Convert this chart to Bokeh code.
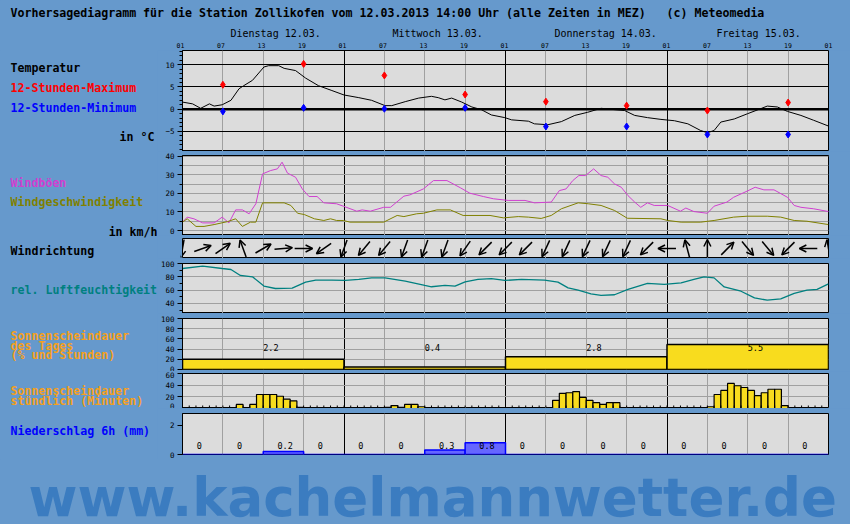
import numpy as np
from bokeh.plotting import figure
from bokeh.layouts import column, row
from bokeh.models import (Range1d, FixedTicker, SingleIntervalTicker,
                          Grid, Span, Arrow, OpenHead, ColumnDataSource)
from bokeh.core.properties import value
from bokeh.embed import file_html
from bokeh.resources import INLINE

# ---------------- data (x = hours since 12.03. 01:00 MEZ) ----------------
title_text = ("Vorhersagediagramm für die Station Zollikofen vom 12.03.2013 14:00 Uhr "
              "(alle Zeiten in MEZ)\u00a0\u00a0\u00a0(c) Meteomedia")
day_labels = ["Dienstag 12.03.", "Mittwoch 13.03.", "Donnerstag 14.03.", "Freitag 15.03."]
hour_ticks = list(range(0, 97, 6))
hour_labels = ["01", "07", "13", "19"] * 4 + ["01"]

temp_h = [0, 1.5, 2.7, 4, 4.7, 5.9, 7.2, 8.4, 9.1, 10.4, 12.1, 12.8, 14.3, 15.1, 16.8, 18.3,
          20.2, 22.2, 24, 26.2, 28.1, 30.1, 31.1, 33.1, 35.1, 37, 38, 39, 40, 41.5, 43, 44.4,
          45.9, 47.9, 48.9, 51.4, 52.3, 54.3, 56.3, 58.3, 60.2, 62.2, 64.2, 65.7, 67.2, 69.1,
          71.1, 73.1, 75.1, 77, 78, 79, 80, 82, 84, 85.9, 86.9, 88.4, 89.9, 91.9, 93.8, 96]
temp_v = [1.6, 1.2, 0.2, 1.2, 0.7, 1.0, 2.0, 4.6, 5.3, 6.5, 9.5, 9.8, 9.8, 9.2, 8.7, 7.0,
          5.3, 4.2, 3.2, 2.6, 2.0, 0.8, 0.8, 1.7, 2.5, 2.9, 2.6, 2.1, 2.5, 1.6, 0.5, -0.1,
          -1.3, -1.9, -2.4, -2.7, -3.3, -3.5, -2.8, -1.4, -0.7, 0.2, -0.1, -0.3, -1.4, -1.9,
          -2.3, -2.6, -3.3, -4.8, -5.3, -4.8, -2.9, -2.2, -1.0, 0.1, 0.7, 0.5, -0.5, -1.4, -2.5, -3.8]
ext_h = [6, 18, 30, 42, 54, 66, 78, 90]
tmax = [5.5, 10.2, 7.6, 3.3, 1.7, 0.8, -0.3, 1.5]
tmin = [-0.5, 0.3, 0.1, 0.3, -3.9, -3.9, -5.7, -5.7]

gust_h = [0, 0.7, 1.7, 3, 4.7, 5.9, 6.9, 7.9, 8.9, 9.9, 10.9, 11.9, 13.1, 14.1, 14.8, 15.6,
          16.8, 17.8, 18.8, 20, 21, 22.9, 23.9, 25.9, 26.7, 27.9, 29.9, 30.9, 32.9, 33.8, 35.8,
          37.3, 39.3, 41.3, 42.7, 44.7, 46.2, 48.4, 50.9, 52.3, 54.8, 56, 57, 58, 58.9, 59.9,
          61.1, 62.2, 63.2, 64.2, 65.2, 66.2, 67.2, 68.1, 69.1, 70.1, 72.1, 74, 74.8, 76, 78,
          79, 80.9, 81.9, 83.9, 85.1, 86.4, 87.9, 89.9, 90.9, 91.9, 93.8, 96]
gust_v = [4.5, 7.2, 6.3, 4.1, 4.1, 7.2, 4.1, 11.1, 11.1, 9.0, 14.4, 30.5, 32.3, 33.2, 36.8, 30.9,
          28.7, 22.4, 18.3, 18.3, 14.9, 14.4, 13.1, 10.4, 11.1, 10.4, 12.5, 12.5, 18.5, 19.2, 22.4,
          26.9, 26.9, 23.0, 20.1, 18.3, 17.1, 16.2, 16.2, 14.9, 15.3, 21.5, 22.4, 26.9, 29.6, 29.6,
          33.2, 29.6, 28.7, 25.1, 23.3, 18.8, 15.3, 12.5, 14.9, 13.5, 13.5, 10.4, 12.1, 10.2, 9.3,
          13.1, 15.3, 17.9, 21.2, 23.3, 21.9, 21.9, 17.9, 13.5, 12.5, 11.7, 10.2]
wind_h = [0, 0.7, 2, 3.2, 4.7, 6.7, 7.9, 8.9, 10.1, 10.9, 11.9, 15.1, 16.1, 17.1, 18.1, 19.6,
          21, 22, 22.9, 23.9, 24.9, 29.9, 31.9, 32.9, 34.8, 35.8, 37.8, 39.8, 41.7, 45.7, 47.7,
          49.9, 51.4, 53.3, 54.8, 56.3, 58.8, 60.3, 62.2, 64.2, 66.1, 71.1, 72.1, 74.1, 77, 79,
          81.9, 83.9, 86.9, 88.9, 90.9, 92.8, 96]
wind_v = [4.5, 6.3, 2.2, 2.2, 3.2, 4.8, 6.3, 2.2, 4.5, 4.5, 14.9, 14.9, 13.5, 9.3, 8.6, 6.3,
          5.4, 6.3, 5.4, 5.4, 4.5, 4.5, 8.1, 7.5, 9.0, 9.3, 11.1, 11.1, 8.1, 8.1, 6.8,
          7.5, 7.2, 6.5, 8.1, 11.7, 14.9, 14.4, 13.5, 10.8, 6.6, 6.3, 5.4, 4.5, 4.5, 5.4,
          7.2, 7.7, 7.7, 7.2, 5.4, 5.0, 3.2]

wdir_h = list(range(0, 97, 3))
wdir_deg = [190, 70, 55, 340, 60, 85, 90, 235, 200, 220, 220, 200, 200, 200, 215, 225, 225,
            225, 205, 205, 205, 205, 205, 225, 270, 345, 0, 45, 140, 140, 225, 270, 350]

hum_h = [0, 3, 5.9, 7.2, 8.6, 10.4, 12.1, 13.8, 16.3, 18.3, 19.8, 22.2, 24.2, 26.2, 28.1, 30.1,
         33.1, 36, 37, 39, 40.5, 42, 43.9, 45.9, 47.9, 50.4, 53.8, 55.8, 57.3, 58.8, 60.7, 62.2,
         64.2, 66.2, 69.1, 71.6, 74.1, 76, 77.5, 79, 80.5, 83, 85, 86.9, 88.9, 90.9, 92.8, 94.3, 96]
hum_v = [92.5, 96, 92.5, 91, 82, 80, 66, 62.4, 63, 72, 75, 75, 74.5, 76, 78.4, 78.4,
         73.4, 67, 65, 67, 66, 72.5, 76, 77.4, 74.5, 76, 75, 72, 63.4, 60, 54.3, 52,
         53, 61, 70, 68.5, 71, 76, 80, 78.4, 64.8, 58.3, 48.3, 44.8, 46.8, 55, 60, 61, 69.3]

sun_day_pct = [20, 4.8, 24.8, 48.8]
sun_day_hours = ["2.2", "0.4", "2.8", "5.5"]
sun_min = ([0, 0, 0, 0, 0, 0, 0, 0, 7, 0, 7, 24, 24, 24, 21, 16, 13, 2, 0, 0, 0, 0, 0, 0] +
           [0, 0, 0, 0, 0, 0, 2, 5, 2, 7, 7, 3, 0, 0, 0, 0, 0, 0, 0, 0, 0, 0, 0, 0] +
           [0, 0, 0, 0, 0, 0, 0, 14, 26, 27, 29, 19, 14, 10, 7, 10, 10, 0, 0, 0, 0, 0, 0, 0] +
           [0, 0, 0, 0, 0, 0, 3, 24, 31, 43, 39, 36, 31, 22, 27, 33, 33, 5, 0, 0, 0, 0, 0, 0])
precip = [0, 0, 0.2, 0, 0, 0, 0.3, 0.8, 0, 0, 0, 0, 0, 0, 0, 0]

# ---------------- style / layout ----------------
BG = "#6699CC"
PANEL = "#DCDCDC"
GRID_GRAY = "#A0A0A0"
YELLOW = "#F8DC1E"
ORANGE = "#F4A020"
MONO = "DejaVu Sans Mono"
TOTAL_W = 850
LABEL_W = 157           # left text column
AX_B, RIGHT_B = 23, 22  # panel left border (axis) and right border
PANEL_W = TOTAL_W - LABEL_W
XPX = 648 / 96.0        # px per hour
BGSTYLE = {"background-color": BG}

x_range = Range1d(0, 96)
six_ticks = [t for t in hour_ticks if t % 24]
day_ticks = [t for t in hour_ticks if t % 24 == 0]


def hx(xref):
    return (xref - 180) / XPX


def plain(width, height, xr, yr):
    p = figure(width=width, height=height, x_range=xr, y_range=yr,
               x_axis_type=None, y_axis_type=None, output_backend="svg",
               toolbar_location=None, min_border=0, border_fill_color=BG,
               background_fill_color=BG, outline_line_color=None)
    return p


def _aslist(v):
    return list(v) if isinstance(v, (list, tuple, np.ndarray)) else None


def txt(p, x, y, text, color="black", size="11.6px", bold=True, align="left",
        baseline="middle", font=MONO):
    lx, ly, lt = _aslist(x), _aslist(y), _aslist(text)
    n = max(len(l) for l in (lx, ly, lt) if l is not None) if any(
        l is not None for l in (lx, ly, lt)) else 1
    xs = lx if lx is not None else [x] * n
    ys = ly if ly is not None else [y] * n
    ts = lt if lt is not None else [text] * n
    p.text(x=xs, y=ys, text=ts, text_color=color, text_font=value(font),
           text_font_size=value(size), text_font_style=value("bold" if bold else "normal"),
           text_align=align, text_baseline=baseline)


def panel(frame_h, top_b, bottom_b, lo, hi, ticker=None, minor=True):
    p = figure(width=PANEL_W, height=frame_h + top_b + bottom_b, x_range=x_range,
               y_range=Range1d(lo, hi), x_axis_type=None,
               y_axis_type="linear" if ticker is not None else None,
               output_backend="svg", toolbar_location=None,
               min_border_left=AX_B, min_border_right=RIGHT_B,
               min_border_top=top_b, min_border_bottom=bottom_b,
               border_fill_color=BG, background_fill_color=PANEL,
               outline_line_color="black", outline_line_width=1)
    if ticker is not None:
        p.ygrid.visible = False
        ax = p.yaxis[0]
        ax.ticker = ticker
        ax.major_label_text_font = MONO
        ax.major_label_text_font_size = "7.5px"
        ax.major_label_text_color = "black"
        ax.major_tick_out = 5
        ax.major_tick_in = 0
        ax.minor_tick_out = 3
        ax.minor_tick_in = 0
        ax.major_label_standoff = 3
        ax.axis_line_color = "black"
        if not minor:
            ax.minor_tick_line_color = None
    p.add_layout(Grid(dimension=0, ticker=FixedTicker(ticks=six_ticks),
                      grid_line_color=GRID_GRAY, grid_line_width=1))
    p.add_layout(Grid(dimension=0, ticker=FixedTicker(ticks=day_ticks),
                      grid_line_color="black", grid_line_width=1))
    return p


# ---- header (title, days, hours) : reference y 0..50 ----
head = plain(TOTAL_W, 50, Range1d(hx(0), hx(TOTAL_W)), Range1d(50, 0))
txt(head, hx(10), 12.5, title_text)
txt(head, [24 * i + 50 / XPX for i in range(len(day_labels))], 33, day_labels,
    size="10px", bold=False)
txt(head, hour_ticks, 45, hour_labels, size="6.5px", bold=False, align="center")

# ---- 1: temperature ----
p1 = panel(101, 0, 0, -9.53, 13.22, SingleIntervalTicker(interval=5, num_minor_ticks=5))
p1.add_layout(Grid(dimension=1, ticker=FixedTicker(ticks=[-5, 5, 10]),
                   grid_line_color="black", grid_line_width=1))
p1.add_layout(Span(location=0, dimension="width", line_color="black", line_width=2.5,
                   level="underlay"))
p1.line(temp_h, temp_v, line_color="black", line_width=1)
p1.scatter(ext_h, tmax, marker="diamond", size=7, color="#FF0000")
p1.scatter(ext_h, tmin, marker="diamond", size=7, color="#0000FF")

# ---- 2: wind ----
p2 = panel(80, 4, 0, -2.69, 40.4, SingleIntervalTicker(interval=10, num_minor_ticks=2))
p2.add_layout(Grid(dimension=1, ticker=FixedTicker(ticks=list(range(0, 41, 5))),
                   grid_line_color=GRID_GRAY, grid_line_width=1, level="underlay"))
p2.line(gust_h, gust_v, line_color="#D040D0", line_width=1)
p2.line(wind_h, wind_v, line_color="#808000", line_width=1)

# ---- 3: wind direction ----
p3 = panel(20, 3, 0, 0.0, 1.0, None)
ARROW_PX = 18.0
th = np.deg2rad(np.array(wdir_deg, dtype=float))
wh = np.array(wdir_h, dtype=float)
dxh = (ARROW_PX / 2) * np.sin(th) / XPX
dyv = (ARROW_PX / 2) * np.cos(th) / 20.0
arr_src = ColumnDataSource(dict(x0=wh - dxh, x1=wh + dxh, y0=0.5 - dyv, y1=0.5 + dyv))
p3.add_layout(Arrow(end=OpenHead(size=7, line_width=1.5, line_color="black"),
                    source=arr_src, x_start="x0", y_start="y0", x_end="x1", y_end="y1",
                    line_color="black", line_width=1.5))

# ---- 4: humidity ----
p4 = panel(50, 5, 0, 24.8, 100, SingleIntervalTicker(interval=20, num_minor_ticks=2))
p4.add_layout(Grid(dimension=1, ticker=FixedTicker(ticks=[40, 60, 80]),
                   grid_line_color=GRID_GRAY, grid_line_width=1))
p4.line(hum_h, hum_v, line_color="#008080", line_width=1.3)

# ---- 5: daily sunshine ----
p5 = panel(51, 5, 2, 0, 100, SingleIntervalTicker(interval=20), minor=False)
p5.add_layout(Grid(dimension=1, ticker=FixedTicker(ticks=[20, 40, 60, 80]),
                   grid_line_color=GRID_GRAY, grid_line_width=1))
d_left = np.arange(len(sun_day_pct)) * 24
p5.quad(left=d_left, right=d_left + 24, bottom=0, top=sun_day_pct,
        fill_color=YELLOW, line_color="black", line_width=1.5)
txt(p5, d_left + 12, 43, sun_day_hours, size="8.5px", bold=False)

# ---- 6: hourly sunshine ----
p6 = panel(35, 2, 0, 0, 60, SingleIntervalTicker(interval=20), minor=False)
p6.add_layout(Grid(dimension=1, ticker=FixedTicker(ticks=[20, 40]),
                   grid_line_color=GRID_GRAY, grid_line_width=1))
sm = np.array(sun_min, dtype=float)
idx = np.nonzero(sm > 0)[0]
p6.quad(left=idx, right=idx + 1, bottom=0, top=sm[idx],
        fill_color=YELLOW, line_color="black", line_width=1.2)
p6.scatter(x=np.arange(1, len(sun_min)), y=0, marker="dash", angle=np.pi / 2, size=6,
           line_color="black", line_width=1)

# ---- 7: precipitation ----
p7 = panel(41, 5, 5, 0, 2.8, SingleIntervalTicker(interval=2), minor=False)
pl = np.arange(len(precip)) * 6
p7.quad(left=pl, right=pl + 6, bottom=0, top=precip,
        fill_color="#6666FF", line_color="#0000FF", line_width=1.5)
p_txt = ["0" if v == 0 else f"{v:.1f}" for v in precip]
txt(p7, pl + 3 - 6 / XPX, 0.61, p_txt, size="8.5px", bold=False)

panels = [p1, p2, p3, p4, p5, p6, p7]
mid_h = sum(p.height for p in panels)   # reference y 50 .. 459

# ---- left text column : reference x 0..157, y 50..459 ----
left = plain(LABEL_W, mid_h, Range1d(0, LABEL_W), Range1d(50 + mid_h, 50))
txt(left, 10, 67.3, "Temperatur")
txt(left, 10, 87.3, "12-Stunden-Maximum", color="#FF0000")
txt(left, 10, 107.3, "12-Stunden-Minimum", color="#0000FF")
txt(left, 154, 136.7, "in °C", align="right")
txt(left, 10, 182, "Windböen", color="#D040D0")
txt(left, 10, 201.7, "Windgeschwindigkeit", color="#808000")
txt(left, 157, 231, "in km/h", align="right")
txt(left, 10, 250, "Windrichtung")
txt(left, 10, 289.3, "rel. Luftfeuchtigkeit", color="#008080")
txt(left, 10, [335, 345, 354.5], ["Sonnenscheindauer", "des Tages", "(% und Stunden)"],
    color=ORANGE)
txt(left, 10, [390.5, 400], ["Sonnenscheindauer", "stündlich (Minuten)"], color=ORANGE)
txt(left, 10, 430, "Niederschlag 6h (mm)", color="#0000FF")

# ---- footer with watermark : reference y 459..524 ----
foot_h = 524 - 50 - mid_h
foot = plain(TOTAL_W, foot_h, Range1d(0, TOTAL_W), Range1d(524, 524 - foot_h))
txt(foot, 28, 497, "www.kachelmannwetter.de", color="#3B7CC0", size="53px",
    font="DejaVu Sans", baseline="middle")

mid = row(left, column(*panels, spacing=0, styles=BGSTYLE), spacing=0, styles=BGSTYLE)
layout = column(head, mid, foot, spacing=0, styles=BGSTYLE)
open("out.html", "w").write(file_html(layout, INLINE))
